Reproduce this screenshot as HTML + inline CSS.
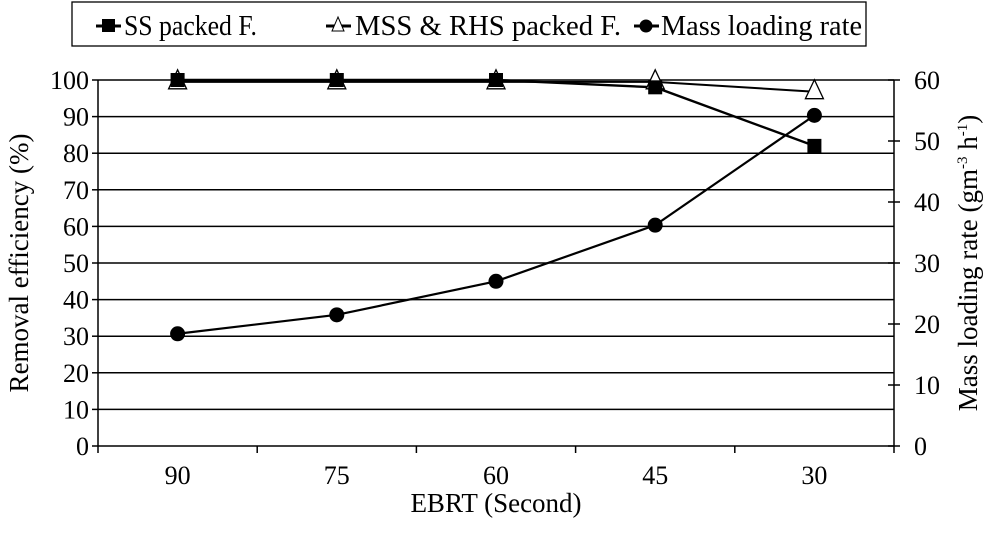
<!DOCTYPE html>
<html><head><meta charset="utf-8"><style>
body{margin:0;background:#fff;}
svg{display:block;font-family:"Liberation Serif","DejaVu Serif",serif;}
</style></head><body>
<svg id="chart" width="1000" height="534" viewBox="0 0 1000 534">
<g>
 <rect x="72" y="2" width="794" height="44" fill="#fff" stroke="#000" stroke-width="1.3"/>
 <g>
  <line x1="96" y1="26" x2="121" y2="26" stroke="#000" stroke-width="3"/>
  <rect x="102" y="19" width="13" height="13" fill="#000"/>
  <text x="124" y="35" font-size="28" textLength="133" lengthAdjust="spacingAndGlyphs">SS packed F.</text>
 </g>
 <g>
  <line x1="326" y1="26" x2="351" y2="26" stroke="#000" stroke-width="3"/>
  <polygon points="338,17 344,31 332,31" fill="#fff" stroke="#000"/>
  <text x="355" y="35" font-size="28" textLength="266" lengthAdjust="spacingAndGlyphs">MSS &amp; RHS packed F.</text>
 </g>
 <g>
  <line x1="634" y1="26" x2="659" y2="26" stroke="#000" stroke-width="3"/>
  <circle cx="646" cy="26" r="6.5" fill="#000"/>
  <text x="661" y="35" font-size="28" textLength="201" lengthAdjust="spacingAndGlyphs">Mass loading rate</text>
 </g>
</g>
<g id="grid"></g>
<g id="axes"></g>
<g id="series"></g>
<text x="28" y="263" font-size="27" text-anchor="middle" transform="rotate(-90 28 263)">Removal efficiency (%)</text>
<text x="977" y="263" font-size="27" text-anchor="middle" transform="rotate(-90 977 263)">Mass loading rate (gm<tspan font-size="15" dy="-10">-3</tspan><tspan dy="10"> h</tspan><tspan font-size="15" dy="-10">-1</tspan><tspan dy="10">)</tspan></text>
<text x="496" y="512" font-size="27" text-anchor="middle">EBRT (Second)</text>
</svg>
<script>
const categories=["90","75","60","45","30"];
const ssValues=[100,100,100,98,82];
const mssValues=[99.5,99.5,99.5,99.5,96.8];
const massValues=[18.4,21.5,27,36.2,54.2];
const leftTicks=[0,10,20,30,40,50,60,70,80,90,100];
const rightTicks=[0,10,20,30,40,50,60];
const NS="http://www.w3.org/2000/svg";
const X0=98,X1=894,Y0=446,Y1=80;
const band=(X1-X0)/categories.length;
const xs=i=>X0+band*(i+0.5);
const yL=v=>Y0-(v/100)*(Y0-Y1);
const yR=v=>Y0-(v/60)*(Y0-Y1);
function mk(tag,attrs,parent){const e=document.createElementNS(NS,tag);for(const k in attrs)e.setAttribute(k,attrs[k]);parent.appendChild(e);return e;}
const grid=document.getElementById('grid'),axes=document.getElementById('axes'),ser=document.getElementById('series');
leftTicks.forEach(t=>{
 const y=yL(t);
 if(t>0){const g=mk('line',{x1:X0,x2:X1,y1:y,y2:y,stroke:'#000','stroke-width':1.5},grid);
 
 }
 const tk=mk('line',{x1:X0-6,x2:X0,y1:y,y2:y,stroke:'#000','stroke-width':1.5},axes);
 
 
 const tx=mk('text',{x:X0-9,y:y+9,'font-size':26,'text-anchor':'end'},axes);tx.textContent=t;
 
 
});
rightTicks.forEach(t=>{
 const y=yR(t);
 const tk=mk('line',{x1:X1-6,x2:X1+6,y1:y,y2:y,stroke:'#000','stroke-width':1.5},axes);
 
 
 const tx=mk('text',{x:X1+20,y:y+9,'font-size':26},axes);tx.textContent=t;
 
 
});
let a=mk('line',{x1:X0,x2:X0,y1:Y1,y2:Y0,stroke:'#000','stroke-width':1.5},axes);


a=mk('line',{x1:X1,x2:X1,y1:Y1,y2:Y0,stroke:'#000','stroke-width':1.5},axes);


a=mk('line',{x1:X0,x2:X1,y1:Y0,y2:Y0,stroke:'#000','stroke-width':1.5},axes);


for(let i=0;i<=categories.length;i++){const x=X0+band*i;
 const tk=mk('line',{x1:x,x2:x,y1:Y0,y2:Y0+7,stroke:'#000','stroke-width':1.5},axes);
 
 }
categories.forEach((c,i)=>{const tx=mk('text',{x:xs(i),y:Y0+38,'font-size':26,'text-anchor':'middle'},axes);tx.textContent=c;
 
 });
function line(vals,yf,name,w){const p=mk('polyline',{points:vals.map((v,i)=>xs(i)+','+yf(v)).join(' '),fill:'none',stroke:'#000','stroke-width':w},ser);
 
 }
line(mssValues,yL,'mss-line',2);
line(ssValues,yL,'ss-line',2.4);
line(massValues,yR,'mass-line',2.2);
mssValues.forEach((v,i)=>{const x=xs(i),y=yL(v);const m=mk('polygon',{points:`${x},${y-12} ${x+9},${y+7} ${x-9},${y+7}`,fill:'#fff',stroke:'#000','stroke-width':1.3},ser);
 
 });
ssValues.forEach((v,i)=>{const m=mk('rect',{x:xs(i)-7,y:yL(v)-7,width:14,height:14,fill:'#000'},ser);
 
 });
massValues.forEach((v,i)=>{const m=mk('circle',{cx:xs(i),cy:yR(v),r:7.5,fill:'#000'},ser);
 
 });
</script>
</body></html>
